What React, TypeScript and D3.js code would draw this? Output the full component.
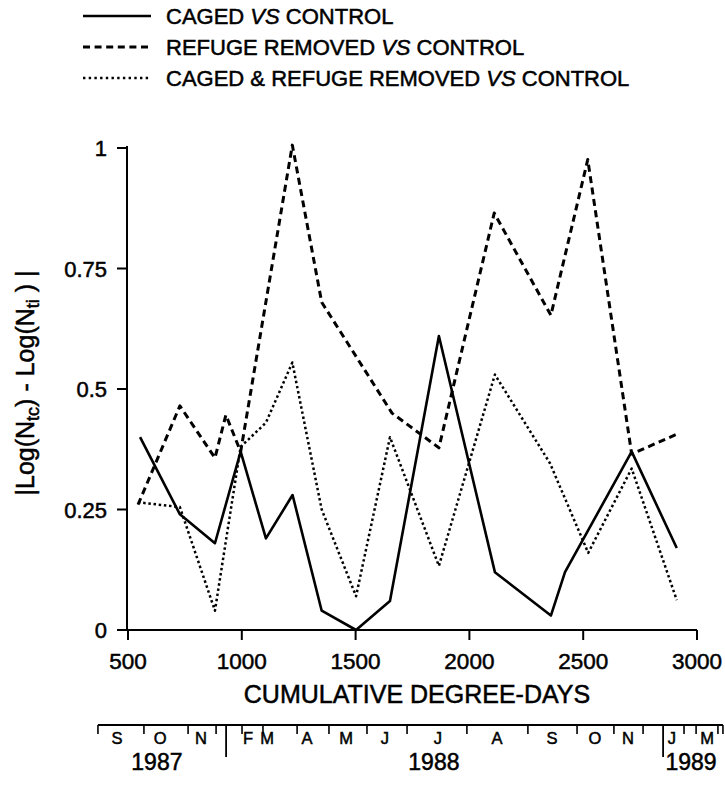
import React from "react";
import * as d3 from "d3";

// ---- data ----
const cagedDD = [553, 728, 882, 995, 1106, 1223, 1351, 1502, 1651, 1866, 2112, 2358, 2420, 2713, 2911];
const cagedVal = [0.40, 0.24, 0.18, 0.37, 0.19, 0.28, 0.04, 0.0, 0.06, 0.61, 0.12, 0.03, 0.12, 0.37, 0.17];

const refugeDD = [544, 728, 882, 930, 995, 1222, 1351, 1660, 1866, 2109, 2358, 2520, 2713, 2915];
const refugeVal = [0.26, 0.465, 0.357, 0.446, 0.37, 1.006, 0.68, 0.45, 0.378, 0.865, 0.653, 0.976, 0.365, 0.407];

const bothDD = [544, 728, 882, 995, 1106, 1222, 1351, 1502, 1651, 1866, 2112, 2354, 2522, 2713, 2911];
const bothVal = [0.265, 0.255, 0.04, 0.38, 0.43, 0.555, 0.25, 0.07, 0.40, 0.133, 0.53, 0.346, 0.16, 0.335, 0.062];

const legendLabels = [
  ["CAGED ", "VS", " CONTROL"],
  ["REFUGE REMOVED ", "VS", " CONTROL"],
  ["CAGED & REFUGE REMOVED ", "VS", " CONTROL"],
];

const xTicks = [500, 1000, 1500, 2000, 2500, 3000];
const yTicks = [0, 0.25, 0.5, 0.75, 1];
const yTickLabels = ["0", "0.25", "0.5", "0.75", "1"];

// calendar axis, expressed in cumulative degree-days
const calStart = 368;
const calEnd = 3114;
const monthTicksDD = [368, 570, 764, 887, 1001, 1093, 1243, 1383, 1550, 1726, 1989, 2257, 2473, 2635, 2763, 2943, 2996, 3092, 3114];
const yearBreaksDD = [931, 2851];
const monthLabels = ["S", "O", "N", "F", "M", "A", "M", "J", "J", "A", "S", "O", "N", "J", "M"];
const monthLabelDD = [452, 641, 821, 1027, 1111, 1286, 1458, 1629, 1862, 2121, 2363, 2552, 2697, 2890, 3044];
const yearLabels = ["1987", "1988", "1989"];
const yearLabelDD = [627, 1844, 2974];

const FONT = "'Liberation Sans', Arial, Helvetica, sans-serif";
const TS = { stroke: "#000", strokeWidth: 0.5 };

export default function App() {
  const x = d3.scaleLinear().domain([500, 3000]).range([128, 697]);
  const y = d3.scaleLinear().domain([0, 1]).range([630, 148]);

  const line = d3
    .line<[number, number]>()
    .x((d) => x(d[0]))
    .y((d) => y(d[1]));

  const zip = (a: number[], b: number[]) => a.map((v, i) => [v, b[i]] as [number, number]);

  const series = [
    { d: line(zip(cagedDD, cagedVal)), dash: undefined, w: 2.6 },
    { d: line(zip(refugeDD, refugeVal)), dash: "7 4.5", w: 3 },
    { d: line(zip(bothDD, bothVal)), dash: "2.5 2.7", w: 2.5 },
  ];

  const legendY = [16, 47, 78];
  const legendBase = [24, 55, 86];
  const legendDash = [undefined, "7 4.6", "2.4 3.3"];
  const legendW = [2.6, 3, 2.4];

  const calY = 725;

  return (
    <svg
      width={725}
      height={791}
      style={{ position: "absolute", left: 0, top: 0, background: "#fff" }}
      fontFamily={FONT}
    >
      <rect width={725} height={791} fill="#fff" />
      {/* legend */}
      {legendLabels.map((parts, i) => (
        <g key={i}>
          <line
            x1={83}
            x2={151}
            y1={legendY[i]}
            y2={legendY[i]}
            stroke="#000"
            strokeWidth={legendW[i]}
            strokeDasharray={legendDash[i]}
          />
          <text x={166} y={legendBase[i]} fontSize={22} fill="#000" {...TS}>
            {parts[0]}
            <tspan fontStyle="italic">{parts[1]}</tspan>
            <tspan>{"\u00a0" + parts[2].trim()}</tspan>
          </text>
        </g>
      ))}

      {/* y axis */}
      <line x1={127} x2={127} y1={y(1) - 2} y2={y(0)} stroke="#000" strokeWidth={2} />
      {yTicks.map((t, i) => (
        <g key={t}>
          <line x1={117} x2={127} y1={y(t)} y2={y(t)} stroke="#000" strokeWidth={2} />
          <text x={107} y={y(t) + 8} fontSize={22} textAnchor="end" fill="#000" {...TS}>
            {yTickLabels[i]}
          </text>
        </g>
      ))}

      {/* x axis */}
      <line x1={117} x2={x(3000)} y1={y(0)} y2={y(0)} stroke="#000" strokeWidth={2} />
      {xTicks.map((t) => (
        <g key={t}>
          <line x1={x(t)} x2={x(t)} y1={y(0)} y2={y(0) + 10} stroke="#000" strokeWidth={2} />
          <text x={x(t)} y={669} fontSize={22.5} textAnchor="middle" fill="#000" {...TS}>
            {t}
          </text>
        </g>
      ))}
      <text x={417} y={703} fontSize={25} textAnchor="middle" fill="#000" {...TS}>
        CUMULATIVE DEGREE-DAYS
      </text>

      {/* y title */}
      <text
        transform={`translate(34, 383) rotate(-90)`}
        fontSize={25}
        textAnchor="middle"
        fill="#000"
        {...TS}
      >
        {"|Log(N"}
        <tspan fontSize={18} dy={5}>tc</tspan>
        <tspan dy={-5}>{") - Log(N"}</tspan>
        <tspan fontSize={18} dy={5}>ti</tspan>
        <tspan dy={-5}>{" ) |"}</tspan>
      </text>

      {/* series */}
      {series.map((s, i) => (
        <path
          key={i}
          d={s.d || ""}
          fill="none"
          stroke="#000"
          strokeWidth={s.w}
          strokeDasharray={s.dash}
          strokeLinejoin="round"
        />
      ))}

      {/* calendar axis */}
      <line x1={x(calStart)} x2={x(calEnd)} y1={calY} y2={calY} stroke="#000" strokeWidth={2} />
      {monthTicksDD.map((t, i) => (
        <line key={"m" + i} x1={x(t)} x2={x(t)} y1={calY} y2={calY + 9} stroke="#000" strokeWidth={1.6} />
      ))}
      {yearBreaksDD.map((t, i) => (
        <line key={"yb" + i} x1={x(t)} x2={x(t)} y1={calY} y2={calY + 32} stroke="#000" strokeWidth={1.8} />
      ))}
      {monthLabels.map((m, i) => (
        <text key={"ml" + i} x={x(monthLabelDD[i])} y={744} fontSize={16.5} textAnchor="middle" fill="#000" {...TS}>
          {m}
        </text>
      ))}
      {yearLabels.map((m, i) => (
        <text key={"yl" + i} x={x(yearLabelDD[i])} y={770} fontSize={23} textAnchor="middle" fill="#000" {...TS}>
          {m}
        </text>
      ))}
    </svg>
  );
}
